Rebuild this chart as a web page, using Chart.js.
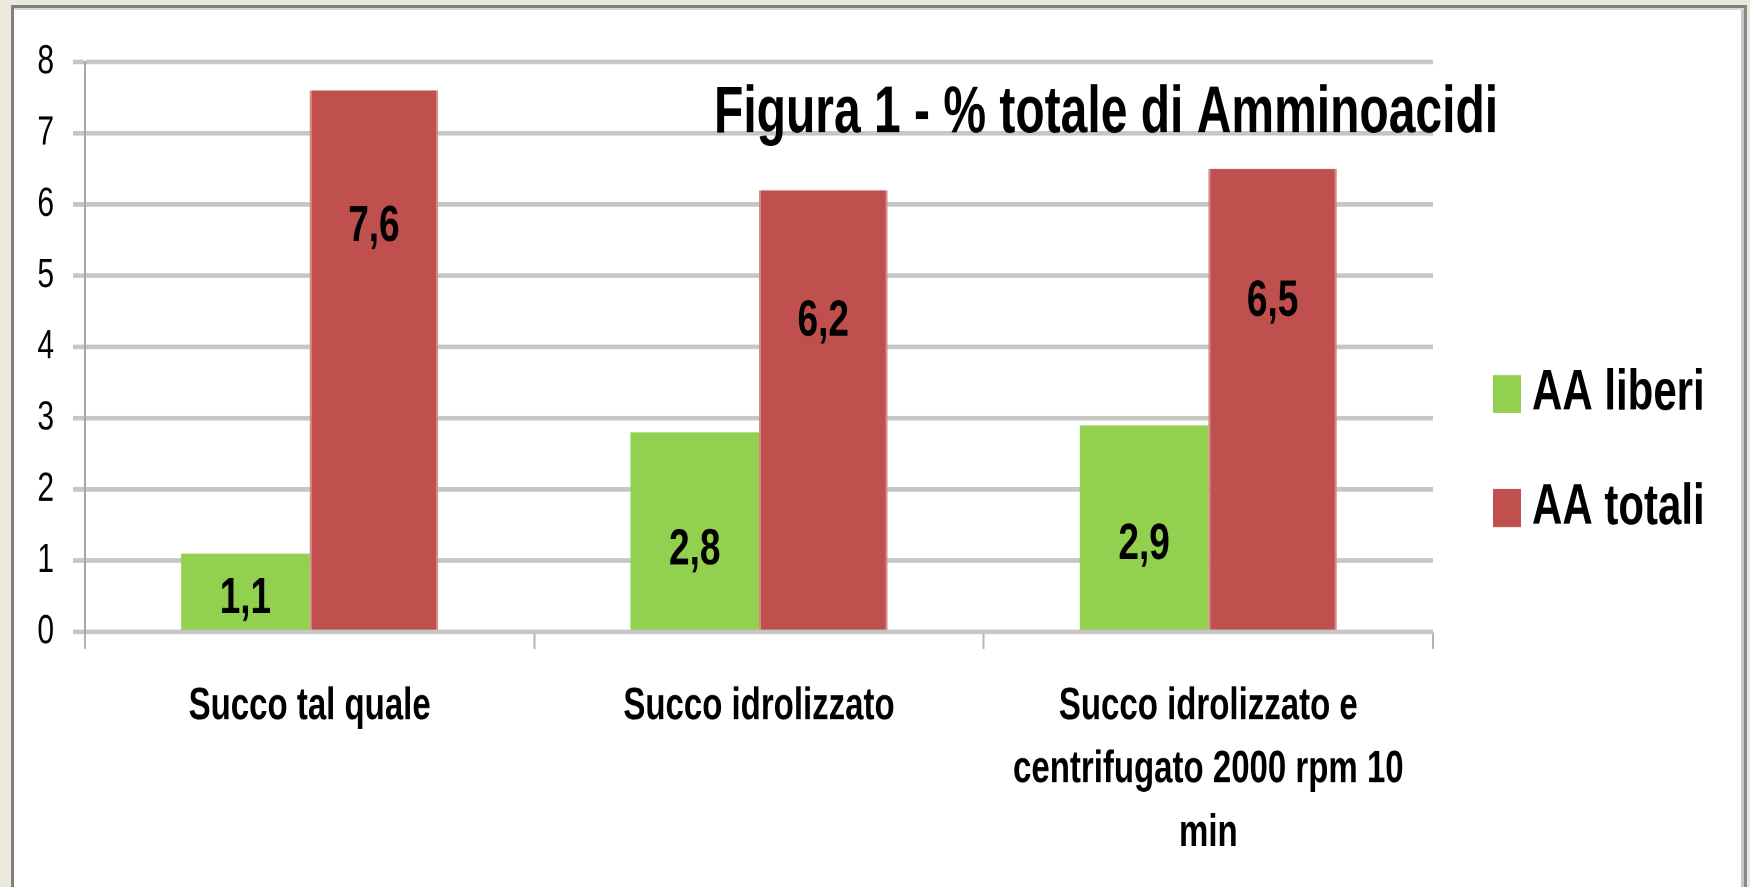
<!DOCTYPE html>
<html>
<head>
<meta charset="utf-8">
<title>Figura 1 - % totale di Amminoacidi</title>
<script src="https://cdn.jsdelivr.net/npm/chart.js@4.4.1/dist/chart.umd.min.js"></script>
<style>
  html, body { margin: 0; padding: 0; }
  body { width: 1750px; height: 887px; background: #ebe9db; overflow: hidden; position: relative; }
  #frame {
    position: absolute; left: 11px; top: 5px; width: 1730px; height: 900px; background: #fff;
    border-left: 3px solid #808080; border-top: 3px solid #808080; border-right: 3px solid #8a8a8a;
    box-shadow: inset 0 2px 0 #d8d8d8, inset -3px 0 0 #c6c6c6;
  }
  /* the picture is a vertically stretched Excel chart, so the chart is drawn flatter and stretched back */
  #wrap { position: absolute; left: 0; top: 0; width: 1750px; height: 647.45px; transform: scaleY(1.37); transform-origin: 0 0; }
</style>
</head>
<body>
<div id="frame"></div>
<div id="wrap"><canvas id="chart"></canvas></div>
<script>
const STRETCH = 1.37;
const H = 887 / STRETCH;
const FONT = '"Liberation Sans", Arial, sans-serif';

const titleText = 'Figura 1 - % totale di Amminoacidi';
const categories = ['Succo tal quale', 'Succo idrolizzato', ['Succo idrolizzato e', 'centrifugato 2000 rpm 10', 'min']];
const seriesNames = ['AA liberi', 'AA totali'];
const aaLiberi = [1.1, 2.8, 2.9];
const aaTotali = [7.6, 6.2, 6.5];
const yTicks = [0, 1, 2, 3, 4, 5, 6, 7, 8];

const plotTop = 62 / STRETCH;
const plotBottom = 632 / STRETCH;

function fmt(v) {
  return v.toFixed(1).replace('.', ',');
}

const overlay = {
  id: 'overlay',
  afterDatasetsDraw(chart) {
    const ctx = chart.ctx;
    ctx.save();
    ctx.fillStyle = '#000';

    // value labels inside the bars
    ctx.textAlign = 'center';
    ctx.textBaseline = 'middle';
    ctx.font = 'bold 37px ' + FONT;
    chart.data.datasets.forEach((ds, i) => {
      chart.getDatasetMeta(i).data.forEach((bar, j) => {
        const h = bar.base - bar.y;
        const off = Math.min(0.6 * h, 80 + 0.05 * h);
        ctx.fillText(fmt(ds.data[j]), bar.x, bar.y + off);
      });
    });

    // title sits over the plot
    ctx.textAlign = 'left';
    ctx.textBaseline = 'alphabetic';
    ctx.font = 'bold 48px ' + FONT;
    ctx.fillText(titleText, 714, 132 / STRETCH);

    // legend
    ctx.textBaseline = 'middle';
    ctx.font = 'bold 42px ' + FONT;
    chart.data.datasets.forEach((ds, i) => {
      const cy = (394 + i * 114) / STRETCH;
      ctx.fillStyle = ds.backgroundColor;
      ctx.fillRect(1493, cy - 19 / STRETCH, 28, 38 / STRETCH);
      ctx.fillStyle = '#000';
      ctx.fillText(ds.label, 1532, cy);
    });
    ctx.restore();
  }
};

new Chart(document.getElementById('chart'), {
  type: 'bar',
  data: {
    labels: categories,
    datasets: [{
      label: seriesNames[0],
      data: aaLiberi,
      backgroundColor: '#92d050',
      borderWidth: 0,
      categoryPercentage: 0.572,
      barPercentage: 1.0
    }, {
      label: seriesNames[1],
      data: aaTotali,
      backgroundColor: '#c0504d',
      borderColor: '#d58a88',
      borderWidth: { left: 2, right: 2, top: 0, bottom: 0 },
      categoryPercentage: 0.572,
      barPercentage: 1.0
    }]
  },
  options: {
    responsive: true,
    maintainAspectRatio: false,
    animation: false,
    devicePixelRatio: 2,
    layout: { padding: { top: plotTop, left: 0, right: 1750 - 1433, bottom: 0 } },
    plugins: {
      legend: { display: false },
      title: { display: false },
      tooltip: { enabled: false }
    },
    scales: {
      x: {
        grid: { offset: true, drawOnChartArea: false, tickLength: 17 / STRETCH, color: '#b4b4b4', lineWidth: 2 },
        border: { display: false },
        ticks: {
          color: '#000',
          font: { family: FONT, size: 33, weight: 'bold', lineHeight: 1.4 },
          padding: 19,
          maxRotation: 0,
          autoSkip: false
        },
        afterFit: s => { s.height = H - plotBottom; }
      },
      y: {
        min: 0,
        max: 8,
        afterBuildTicks: s => { s.ticks = yTicks.map(v => ({ value: v })); },
        grid: { color: '#c6c6c6', lineWidth: 3.4, tickLength: 12 },
        border: { display: true, color: '#a6a6a6', width: 2 },
        ticks: { color: '#000', font: { family: FONT, size: 30 }, padding: 19 },
        afterFit: s => { s.width = 85; }
      }
    }
  },
  plugins: [overlay]
});
</script>
</body>
</html>
